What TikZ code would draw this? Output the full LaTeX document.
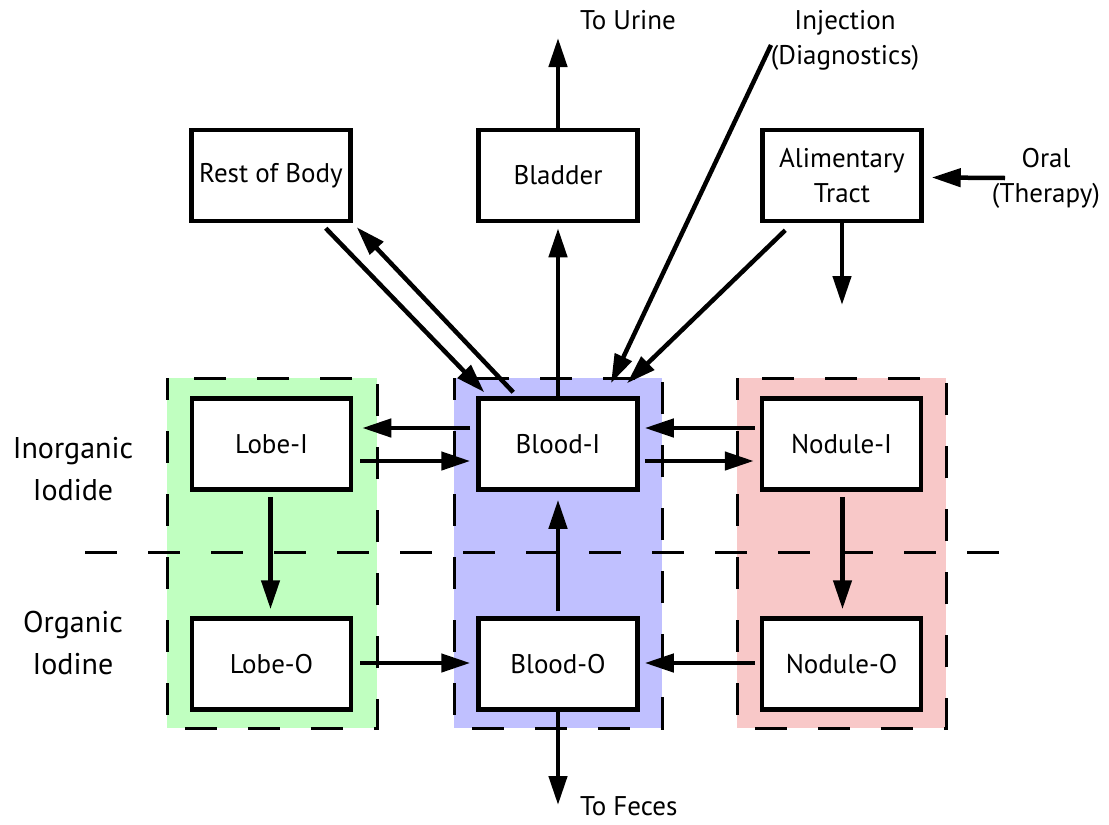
\documentclass[tikz,border=0pt]{standalone}
\usepackage{fontspec}
\setmainfont{PT Sans}
\usetikzlibrary{arrows.meta,calc}
\definecolor{lobefill}{RGB}{192,255,192}
\definecolor{bloodfill}{RGB}{192,192,255}
\definecolor{nodfill}{RGB}{248,200,200}
\begin{document}
\begin{tikzpicture}[x=1pt,y=-1pt,
  box/.style={draw,line width=4.5pt,fill=white,minimum width=159pt,minimum height=91pt,
    align=center,inner sep=0pt,font=\fontsize{27}{35}\selectfont},
  arr/.style={line width=4.5pt,-{Triangle[length=29pt,width=18pt]}},
  zone/.style={line width=3pt,dash pattern=on 32pt off 31pt},
  lbl/.style={align=center,inner sep=0pt,font=\fontsize{27}{35}\selectfont},
  side/.style={align=center,inner sep=0pt,font=\fontsize{30}{42}\selectfont}]
\useasboundingbox (0,0) rectangle (1109,825);

% compartment backgrounds
\fill[lobefill] (167,378) rectangle (377,728);
\fill[bloodfill] (454,378) rectangle (662,728);
\fill[nodfill] (737,378) rectangle (946,728);
\draw[zone,dash phase=10pt] (167,378) rectangle (377,728);
\draw[zone,dash phase=10pt] (454,378) rectangle (662,728);
\draw[zone,dash phase=10pt] (737,378) rectangle (946,728);
\draw[zone] (85,552) -- (1010,552);

% boxes
\node[box] (lobeI) at (271.5,444) {Lobe-I};
\node[box] (lobeO) at (271.5,664) {Lobe-O};
\node[box] (bloodI) at (558,444) {Blood-I};
\node[box] (bloodO) at (558,664) {Blood-O};
\node[box] (nodI) at (841.5,444) {Nodule-I};
\node[box] (nodO) at (841.5,664) {Nodule-O};
\node[box] (rest) at (271,175.5) {Rest of Body};
\node[box] (bladder) at (558,175.5) {Bladder};
\node[box] (alim) at (842,175.5) {Alimentary\\Tract};

% side labels
\node[side] (inorg) at (73,469) {Inorganic\\Iodide};
\node[side] (org) at (73,643) {Organic\\Iodine};

% free ends and their labels
\coordinate (urine) at (558,38);
\coordinate (feces) at (558,805);
\coordinate (inj) at (771,45);
\coordinate (oral) at (1005,178);
\coordinate (alimout) at (842,305);
\node[lbl,anchor=west] (urinelbl) at (580,20) {To Urine};
\node[lbl,anchor=west] (feceslbl) at (580,806) {To Feces};
\node[lbl] (injlbl) at (845,40) {Injection\\(Diagnostics)};
\node[lbl] (orallbl) at (1046,178) {Oral\\(Therapy)};

% exchanges in the inorganic row
\draw[arr] ($(bloodI.west)+(-6,-16)$) -- ($(lobeI.east)+(9,-16)$);
\draw[arr] ($(lobeI.east)+(7,17)$) -- ($(bloodI.west)+(-6,17)$);
\draw[arr] ($(nodI.west)+(-5,-16)$) -- ($(bloodI.east)+(5,-16)$);
\draw[arr] ($(bloodI.east)+(5,17)$) -- ($(nodI.west)+(-6,17)$);

% organification and return
\draw[arr] ($(lobeI.south)+(-1,5)$) -- ($(lobeO.north)+(-1,-7)$);
\draw[arr] ($(nodI.south)+(1,5)$) -- ($(nodO.north)+(1,-7)$);
\draw[arr] ($(bloodO.north)+(0,-5)$) -- ($(bloodI.south)+(0,8)$);
\draw[arr] ($(lobeO.east)+(7,-1)$) -- ($(bloodO.west)+(-6,-1)$);
\draw[arr] ($(nodO.west)+(-5,-1)$) -- ($(bloodO.east)+(5,-1)$);

% excretion
\draw[arr] (bloodO.south) -- (feces);
\draw[arr] (bloodI.north) -- ($(bladder.south)+(0,5)$);
\draw[arr] (bladder.north) -- (urine);

% rest of body
\draw[arr] ($(rest.south east)+(-27,5)$) -- ($(bloodI.north west)+(8,-4)$);
\draw[arr] ($(bloodI.north west)+(37,-4)$) -- ($(rest.south east)+(4,4)$);

% intake
\draw[arr] (inj) -- ($(bloodI.north)+(53,-13)$);
\draw[arr] ($(alim.south west)+(25,7)$) -- ($(bloodI.north)+(69,-13)$);
\draw[arr] (alim.south) -- (alimout);
\draw[arr] (oral) -- ($(alim.east)+(8,2)$);
\end{tikzpicture}
\end{document}
